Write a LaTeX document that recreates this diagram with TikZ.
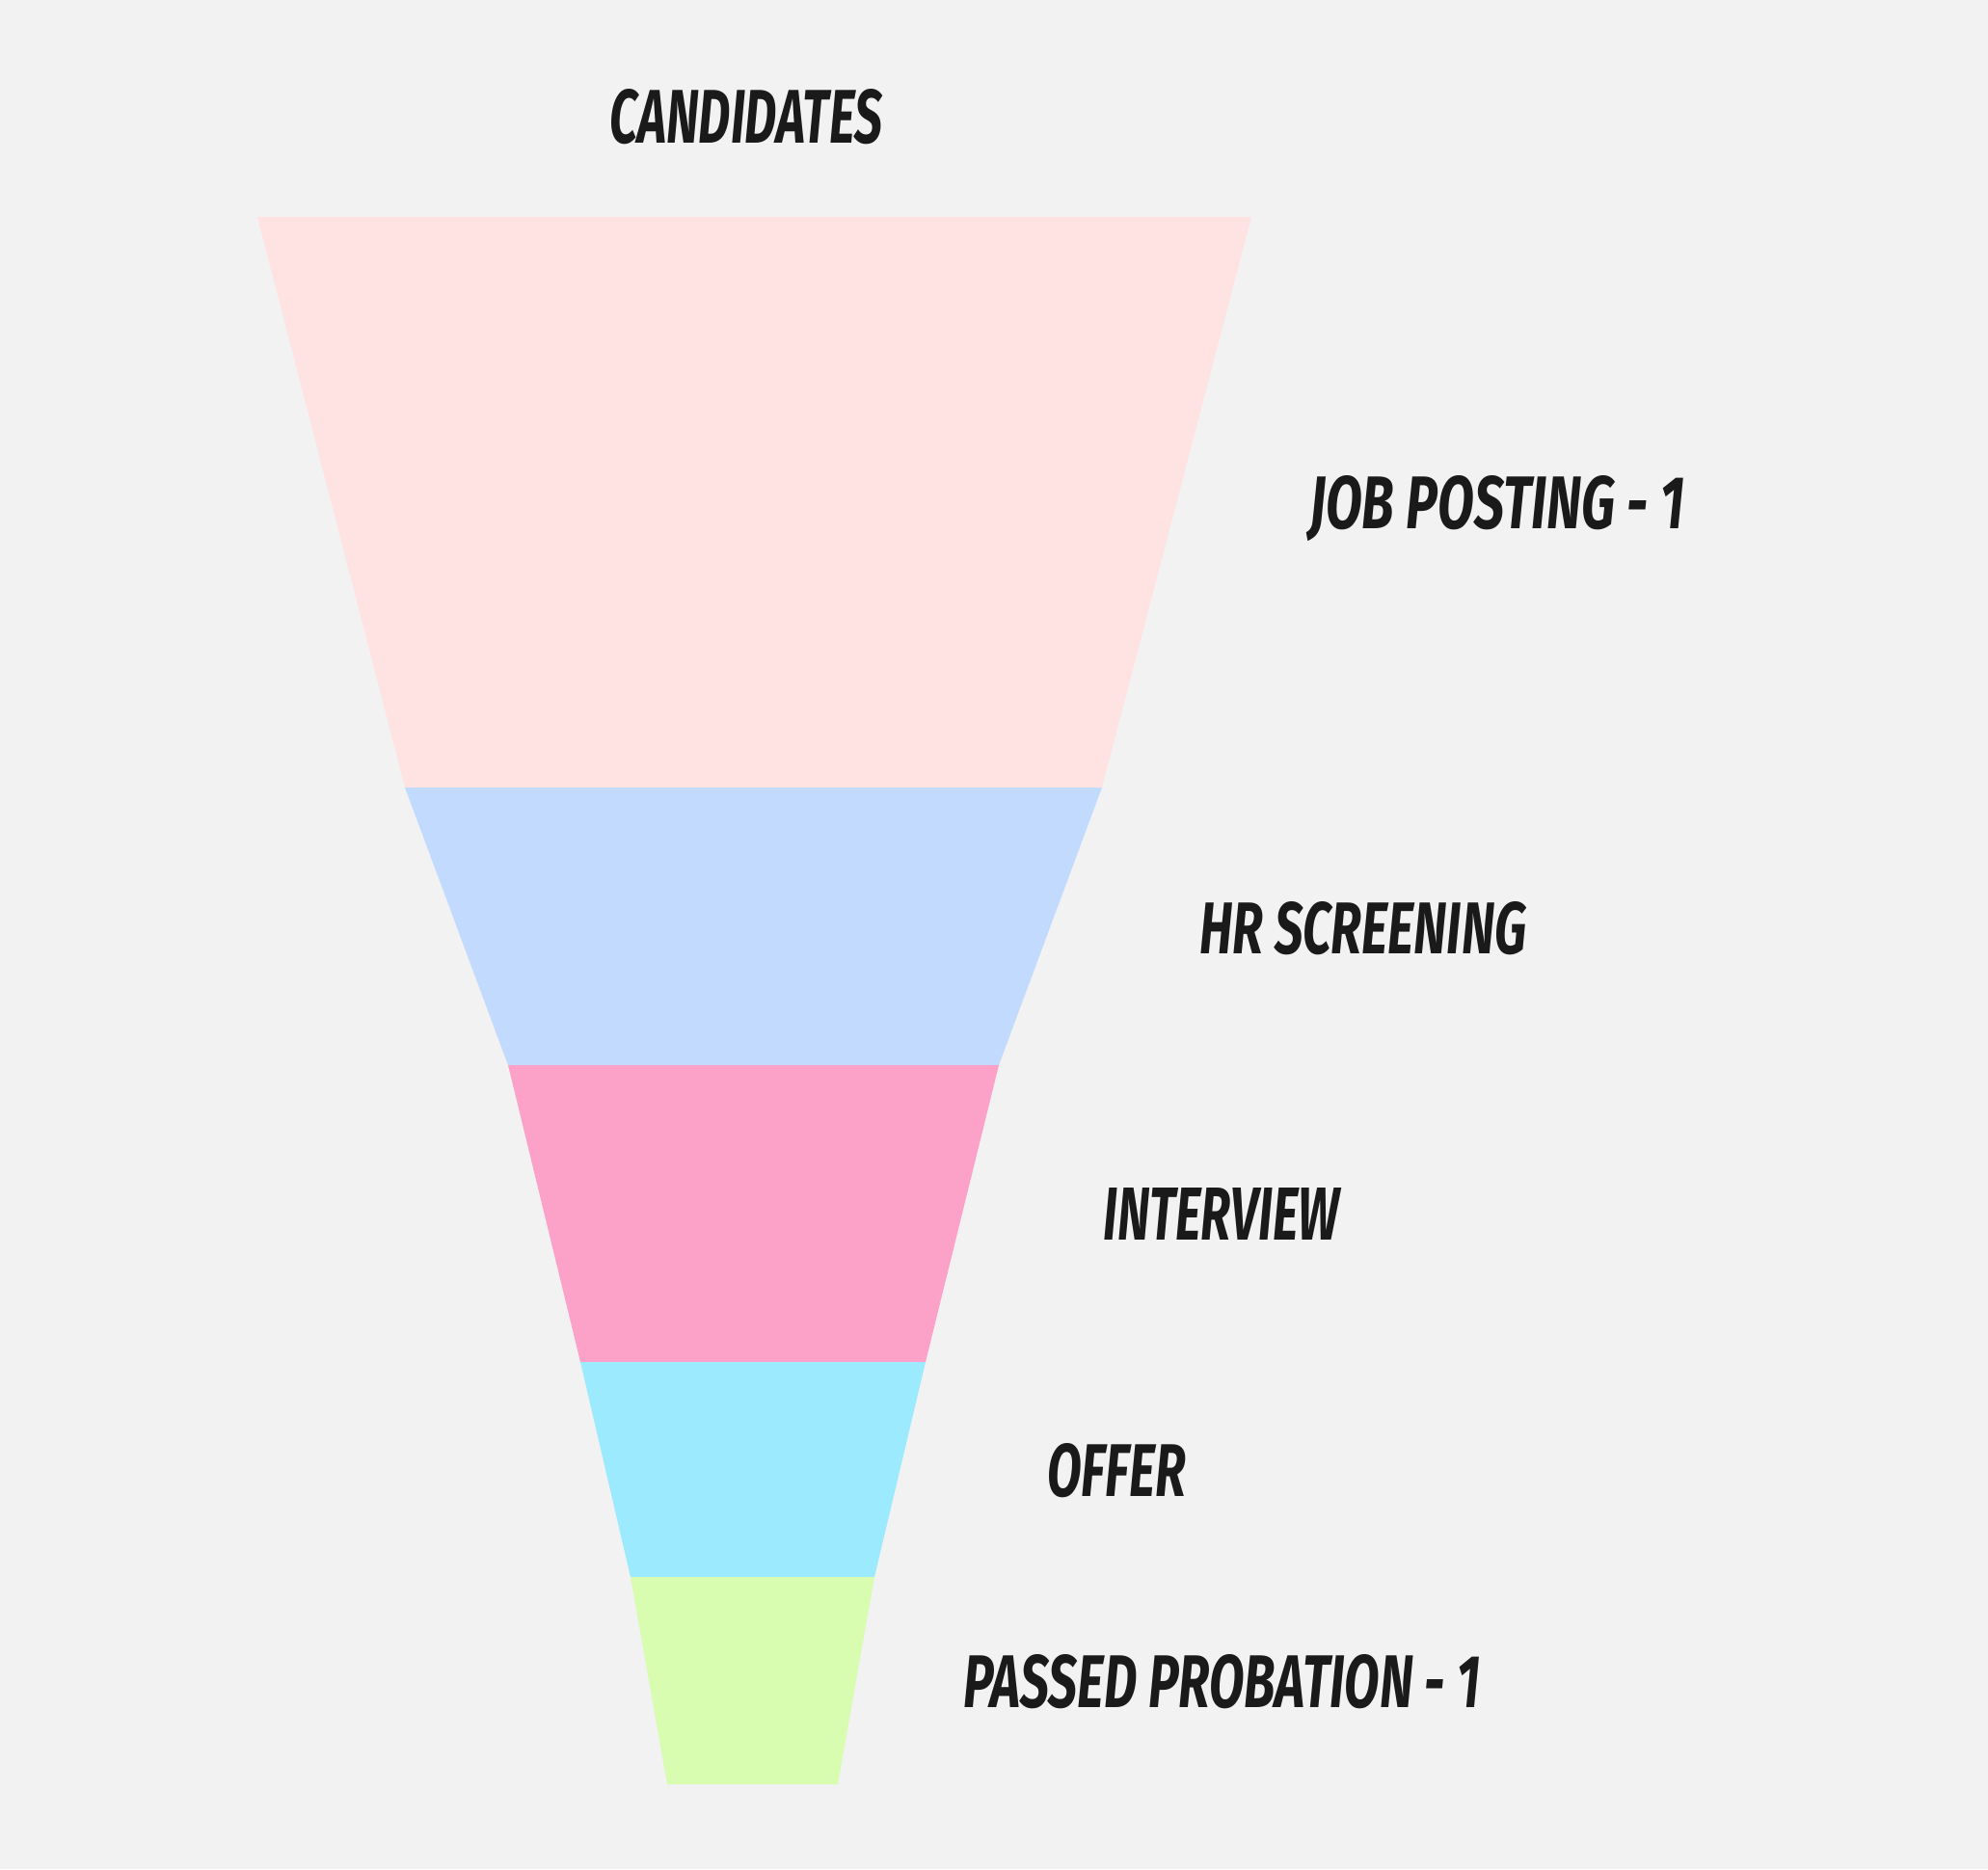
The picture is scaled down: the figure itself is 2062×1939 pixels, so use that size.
\documentclass[tikz,border=0pt]{standalone}
\usepackage{fontspec}
\setmainfont{Fira Sans}
\usepackage{graphicx}
\definecolor{bg}{HTML}{F2F2F2}
\definecolor{ink}{HTML}{1A1A1A}
\definecolor{c1}{HTML}{FFE3E3}
\definecolor{c2}{HTML}{C2DAFD}
\definecolor{c3}{HTML}{FCA2C9}
\definecolor{c4}{HTML}{9BEAFD}
\definecolor{c5}{HTML}{D8FDB1}
\tikzset{
  lbl/.style={anchor=base west, inner sep=0pt, text=ink},
  band/.style={draw=none}
}
\newcommand{\lbltext}[3]{\resizebox{#1pt}{#2pt}{\bfseries\itshape #3}}
\begin{document}
\begin{tikzpicture}[x=1pt,y=-1pt]
\fill[bg] (0,0) rectangle (2062,1939);
\useasboundingbox (0,0) rectangle (2062,1939);
\fill[band,c1] (267,225) -- (1298,225) -- (1143,817) -- (420,817) -- cycle;
\fill[band,c2] (420,817) -- (1143,817) -- (1036,1105) -- (527,1105) -- cycle;
\fill[band,c3] (527,1105) -- (1036,1105) -- (960,1413) -- (602,1413) -- cycle;
\fill[band,c4] (602,1413) -- (960,1413) -- (907,1636) -- (654,1636) -- cycle;
\fill[band,c5] (654,1636) -- (907,1636) -- (869,1851) -- (692,1851) -- cycle;
\node[lbl] (cand) at (632,148) {\lbltext{283}{56}{CANDIDATES}};
\node[lbl] (job) at (1358,548) {\lbltext{389}{55}{JOB POSTING - 1}};
\node[lbl] (hr) at (1244,989) {\lbltext{339}{54}{HR SCREENING}};
\node[lbl] (intv) at (1144,1286) {\lbltext{245}{54}{INTERVIEW}};
\node[lbl] (offer) at (1086,1552) {\lbltext{144}{55}{OFFER}};
\node[lbl] (pass) at (999,1771) {\lbltext{536}{55}{PASSED PROBATION - 1}};
\end{tikzpicture}
\end{document}
